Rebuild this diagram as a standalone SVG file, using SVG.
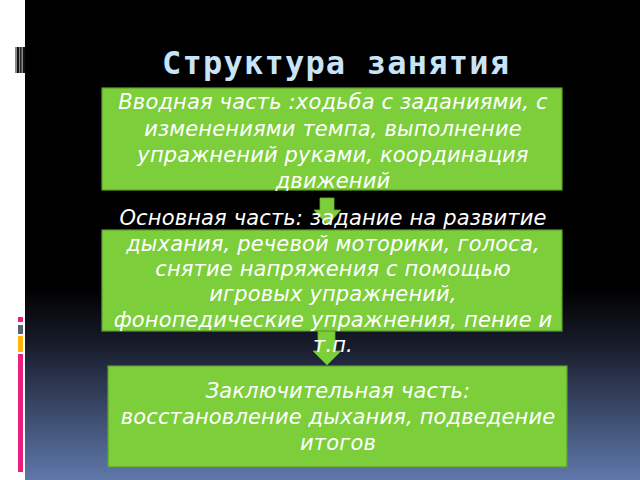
<svg xmlns="http://www.w3.org/2000/svg" width="640" height="480" viewBox="0 0 640 480">
<defs>
<linearGradient id="bg" x1="0" y1="0" x2="0" y2="1">
<stop offset="0" stop-color="#000"/>
<stop offset="0.6" stop-color="#000"/>
<stop offset="0.72" stop-color="#181d2c"/>
<stop offset="1" stop-color="#5f78aa"/>
</linearGradient>
<style>
.box{fill:#7dce3b;stroke:#5f9e2c;stroke-width:1.2}
.arr{fill:#7dce3b;stroke:#6bb232;stroke-width:0.8}
.t{font-family:"DejaVu Sans",sans-serif;font-style:italic;font-size:21px;letter-spacing:0.15px;fill:#fff;text-anchor:middle}
.title{font-family:"DejaVu Sans Mono",monospace;font-weight:bold;font-size:32px;fill:#c8e4f8}
</style>
</defs>
<rect x="0" y="0" width="640" height="480" fill="#fff"/>
<rect x="25" y="0" width="615" height="480" fill="url(#bg)"/>
<g id="deco-top">
<rect x="15" y="47" width="10" height="26" fill="#888"/>
<rect x="17" y="47" width="2" height="26" fill="#111"/>
<rect x="20" y="47" width="1.5" height="26" fill="#222"/>
<rect x="23" y="47" width="2" height="26" fill="#111"/>
</g>
<g id="deco-bottom">
<rect x="18" y="317" width="5" height="5" fill="#e91e7f"/>
<rect x="18" y="325" width="5" height="9" fill="#56606e"/>
<rect x="18" y="336" width="5" height="16" fill="#ffb70a"/>
<rect x="18" y="354" width="5" height="118" fill="#e91e7f"/>
</g>
<g id="title"><text class="title" x="162" y="74" textLength="347" lengthAdjust="spacing">Структура занятия</text></g>
<g id="connectors">
<polygon class="arr" points="320,198 334,198 334,210 341,210 327.5,225 314,210 320,210"/>
<polygon class="arr" points="318,331 335,331 335,351 341,351 327,365 313,351 318,351"/>
</g>
<g id="node1">
<rect class="box" x="102" y="88" width="460" height="102"/>
<text class="t" x="333" y="109">Вводная часть :ходьба с заданиями, с</text>
<text class="t" x="333" y="136">изменениями темпа, выполнение</text>
<text class="t" x="333" y="162">упражнений руками, координация</text>
<text class="t" x="333" y="188">движений</text>
</g>
<g id="node2">
<rect class="box" x="102" y="230" width="460" height="101"/>
<text class="t" x="333" y="225">Основная часть: задание на развитие</text>
<text class="t" x="333" y="251">дыхания, речевой моторики, голоса,</text>
<text class="t" x="333" y="276">снятие напряжения с помощью</text>
<text class="t" x="333" y="301">игровых упражнений,</text>
<text class="t" x="333" y="327">фонопедические упражнения, пение и</text>
<text class="t" x="333" y="352">т.п.</text>
</g>
<g id="node3">
<rect class="box" x="108" y="366" width="459" height="101"/>
<text class="t" x="338" y="398">Заключительная часть:</text>
<text class="t" x="338" y="424">восстановление дыхания, подведение</text>
<text class="t" x="338" y="450">итогов</text>
</g>
</svg>
